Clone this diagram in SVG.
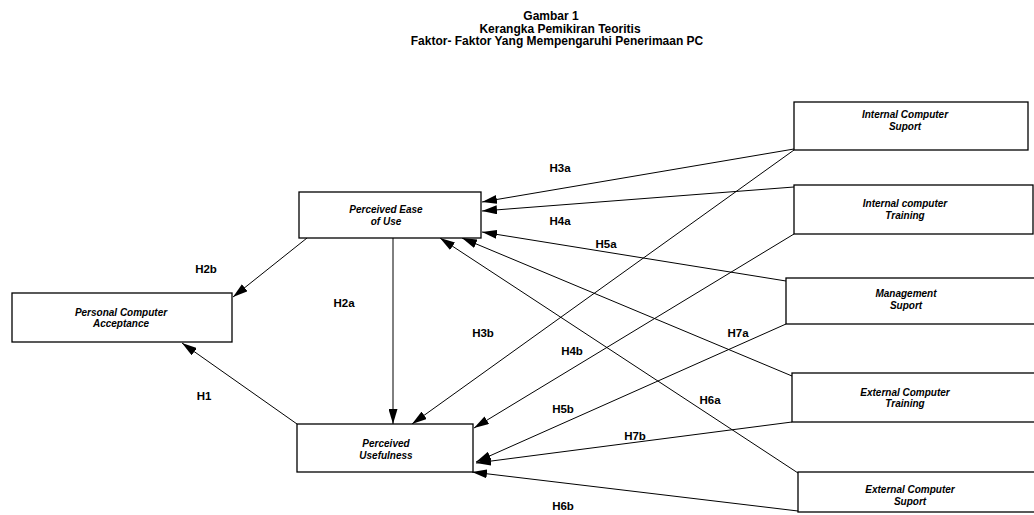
<svg xmlns="http://www.w3.org/2000/svg" width="1034" height="515" viewBox="0 0 1034 515">
<style>
.box{fill:#fff;stroke:#000;stroke-width:1.3}
.nt{font-family:"Liberation Sans",Arial,sans-serif;font-size:10px;font-weight:bold;font-style:italic;text-anchor:middle;fill:#000}
.lb{font-family:"Liberation Sans",Arial,sans-serif;font-size:11.5px;font-weight:bold;text-anchor:middle;fill:#000}
.tt{font-family:"Liberation Sans",Arial,sans-serif;font-size:12px;font-weight:bold;text-anchor:middle;fill:#000}
.cn{stroke:#000;stroke-width:1;fill:none;marker-end:url(#ah)}
</style>
<defs>
<marker id="ah" markerUnits="userSpaceOnUse" markerWidth="15" markerHeight="9" refX="15" refY="4.5" orient="auto">
<path d="M0,0 L15,4.5 L0,9 z" fill="#000"/>
</marker>
</defs>
<rect width="1034" height="515" fill="#fff"/>
<g id="title">
<text class="tt" x="551" y="20">Gambar 1</text>
<text class="tt" x="560" y="33">Kerangka Pemikiran Teoritis</text>
<text class="tt" x="557" y="45">Faktor- Faktor Yang Mempengaruhi Penerimaan PC</text>
</g>
<g id="connectors">
<line class="cn" x1="307" y1="238" x2="233" y2="297"/>
<line class="cn" x1="393" y1="238" x2="393" y2="424"/>
<line class="cn" x1="297" y1="424" x2="182" y2="343"/>
<line class="cn" x1="794" y1="149" x2="482" y2="202"/>
<line class="cn" x1="794" y1="187" x2="482" y2="211"/>
<line class="cn" x1="786" y1="281" x2="482" y2="232"/>
<line class="cn" x1="794" y1="150" x2="412" y2="424"/>
<line class="cn" x1="794" y1="234" x2="474" y2="428"/>
<line class="cn" x1="786" y1="324" x2="476" y2="462"/>
<line class="cn" x1="792" y1="376" x2="462" y2="238"/>
<line class="cn" x1="798" y1="473" x2="440" y2="238"/>
<line class="cn" x1="792" y1="422" x2="476" y2="463"/>
<line class="cn" x1="798" y1="511" x2="472" y2="472"/>
</g>
<g id="labels">
<text class="lb" x="560" y="172">H3a</text>
<text class="lb" x="560" y="225">H4a</text>
<text class="lb" x="606" y="248">H5a</text>
<text class="lb" x="206" y="273">H2b</text>
<text class="lb" x="344" y="307">H2a</text>
<text class="lb" x="483" y="337">H3b</text>
<text class="lb" x="572" y="355">H4b</text>
<text class="lb" x="738" y="337">H7a</text>
<text class="lb" x="204" y="400">H1</text>
<text class="lb" x="563" y="413">H5b</text>
<text class="lb" x="710" y="404">H6a</text>
<text class="lb" x="635" y="440">H7b</text>
<text class="lb" x="563" y="510">H6b</text>
</g>
<g id="peou">
<rect class="box" x="299" y="192" width="182" height="46"/>
<text class="nt" x="386" y="213">Perceived Ease</text>
<text class="nt" x="386" y="225">of Use</text>
</g>
<g id="pca">
<rect class="box" x="12" y="293" width="220" height="49"/>
<text class="nt" x="121" y="316">Personal Computer</text>
<text class="nt" x="121" y="327">Acceptance</text>
</g>
<g id="pu">
<rect class="box" x="297" y="424" width="176" height="48"/>
<text class="nt" x="386" y="447">Perceived</text>
<text class="nt" x="386" y="459">Usefulness</text>
</g>
<g id="ics">
<rect class="box" x="794" y="102" width="234" height="48"/>
<text class="nt" x="905" y="118">Internal Computer</text>
<text class="nt" x="905" y="130">Suport</text>
</g>
<g id="ict">
<rect class="box" x="794" y="185" width="239" height="49"/>
<text class="nt" x="905" y="207">Internal computer</text>
<text class="nt" x="905" y="219">Training</text>
</g>
<g id="ms">
<rect class="box" x="786" y="278" width="260" height="46"/>
<text class="nt" x="906" y="297">Management</text>
<text class="nt" x="906" y="309">Suport</text>
</g>
<g id="ect">
<rect class="box" x="792" y="373" width="260" height="49"/>
<text class="nt" x="905" y="396">External Computer</text>
<text class="nt" x="905" y="407">Training</text>
</g>
<g id="ecs">
<rect class="box" x="798" y="472" width="260" height="40"/>
<text class="nt" x="910" y="493">External Computer</text>
<text class="nt" x="910" y="505">Suport</text>
</g>
</svg>
